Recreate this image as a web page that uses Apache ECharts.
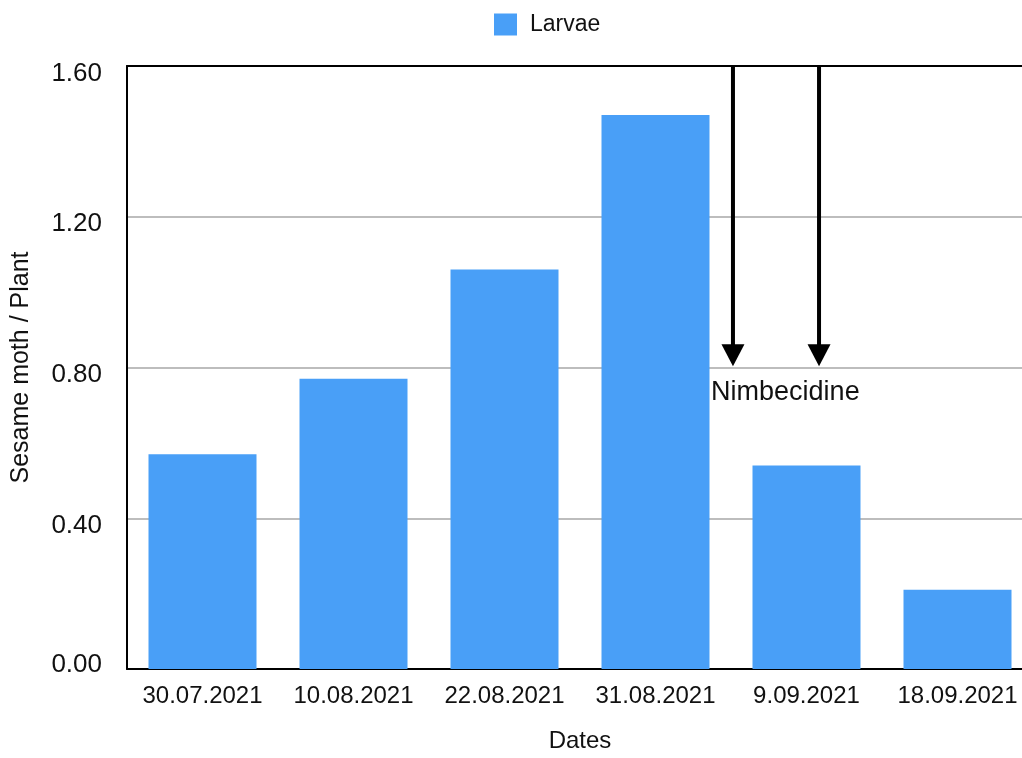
<!DOCTYPE html>
<html>
<head>
<meta charset="utf-8">
<script src="https://cdn.jsdelivr.net/npm/echarts@6/dist/echarts.min.js"></script>
<style>html,body{margin:0;padding:0;background:#fff;overflow:hidden;width:1022px;height:758px;}#c{width:1033px;height:758px;}</style>
</head>
<body>
<div id="c"></div>
<script>
const categories = ['30.07.2021','10.08.2021','22.08.2021','31.08.2021','9.09.2021','18.09.2021'];
const larvae = [0.57, 0.77, 1.06, 1.47, 0.54, 0.21];
const yTicks = [0, 0.4, 0.8, 1.2, 1.6];
// arrows: [x position in category units (0..6), top value, tip value]
const arrows = [[4.013, 1.6, 0.803], [4.583, 1.6, 0.803]];
// annotation: [x position, y value, text]
const annotations = [[4.36, 0.734, 'Nimbecidine']];

const FONT = '"Liberation Sans", Helvetica, Arial, sans-serif';
const chart = echarts.init(document.getElementById('c'));
const yMin = yTicks[0], yMax = yTicks[yTicks.length - 1];
chart.setOption({
  animation: false,
  textStyle: { fontFamily: FONT, color: '#111' },
  legend: {
    data: ['Larvae'],
    top: 8, left: 489,
    itemWidth: 23, itemHeight: 22, icon: 'rect',
    textStyle: { fontSize: 23, color: '#111', fontFamily: FONT, padding: [0, 0, 0, 8] }
  },
  grid: { left: 127, top: 66, bottom: 87, right: 0, containLabel: false },
  xAxis: [
    {
      type: 'category', data: categories, position: 'bottom',
      name: 'Dates', nameLocation: 'middle', nameGap: 60,
      nameTextStyle: { fontSize: 24, color: '#111', fontFamily: FONT },
      axisLine: { show: true, lineStyle: { color: '#000', width: 2 } },
      axisTick: { show: false },
      axisLabel: { fontSize: 24, color: '#111', margin: 15, fontFamily: FONT, interval: 0 }
    },
    {
      type: 'value', min: 0, max: 6, show: false
    },
    {
      type: 'category', data: categories, position: 'top',
      axisLine: { show: true, lineStyle: { color: '#000', width: 2 } },
      axisTick: { show: false }, axisLabel: { show: false }, splitLine: { show: false }
    }
  ],
  yAxis: {
    type: 'value', min: yMin, max: yMax, interval: 0.4,
    name: 'Sesame moth / Plant', nameLocation: 'middle', nameGap: 93,
    nameTextStyle: { fontSize: 25, color: '#111', fontFamily: FONT },
    axisLine: { show: true, lineStyle: { color: '#000', width: 2 } },
    axisTick: { show: false },
    axisLabel: {
      color: '#111', margin: 25, fontFamily: FONT,
      formatter: function (v) {
        const s = v.toFixed(2);
        if (Math.abs(v - yMax) < 1e-9) return '{mx|' + s + '}';
        if (Math.abs(v - yMin) < 1e-9) return '{mn|' + s + '}';
        return '{n|' + s + '}';
      },
      rich: {
        n: { fontSize: 26, fontFamily: FONT, color: '#111', padding: [15, 0, 0, 0] },
        mx: { fontSize: 26, fontFamily: FONT, color: '#111', padding: [16, 0, 0, 0] },
        mn: { fontSize: 26, fontFamily: FONT, color: '#111', padding: [0, 0, 8, 0] }
      }
    },
    splitLine: { show: true, lineStyle: { color: '#bdbdbd', width: 2 } }
  },
  series: [
    {
      name: 'Larvae', type: 'bar', data: larvae,
      barWidth: 108,
      itemStyle: { color: '#499ff7' }
    },
    {
      name: 'arrows', type: 'custom', xAxisIndex: 1, yAxisIndex: 0,
      data: arrows, z: 5,
      renderItem: function (params, api) {
        const x = api.value(0);
        const top = api.coord([x, api.value(1)]);
        const tip = api.coord([x, api.value(2)]);
        const hh = 22, hw = 11.5;
        return {
          type: 'group',
          children: [
            { type: 'line', shape: { x1: top[0], y1: top[1], x2: tip[0], y2: tip[1] - hh + 2 },
              style: { stroke: '#000', lineWidth: 4 } },
            { type: 'polygon', shape: { points: [[tip[0] - hw, tip[1] - hh], [tip[0] + hw, tip[1] - hh], [tip[0], tip[1]]] },
              style: { fill: '#000' } }
          ]
        };
      }
    },
    {
      name: 'notes', type: 'custom', xAxisIndex: 1, yAxisIndex: 0,
      data: annotations, z: 6,
      renderItem: function (params, api) {
        const p = api.coord([api.value(0), api.value(1)]);
        return {
          type: 'text',
          style: { text: annotations[params.dataIndex][2], x: p[0], y: p[1], align: 'center', verticalAlign: 'middle',
                   font: '27px ' + FONT, fill: '#111' }
        };
      }
    }
  ]
});
</script>
</body>
</html>
